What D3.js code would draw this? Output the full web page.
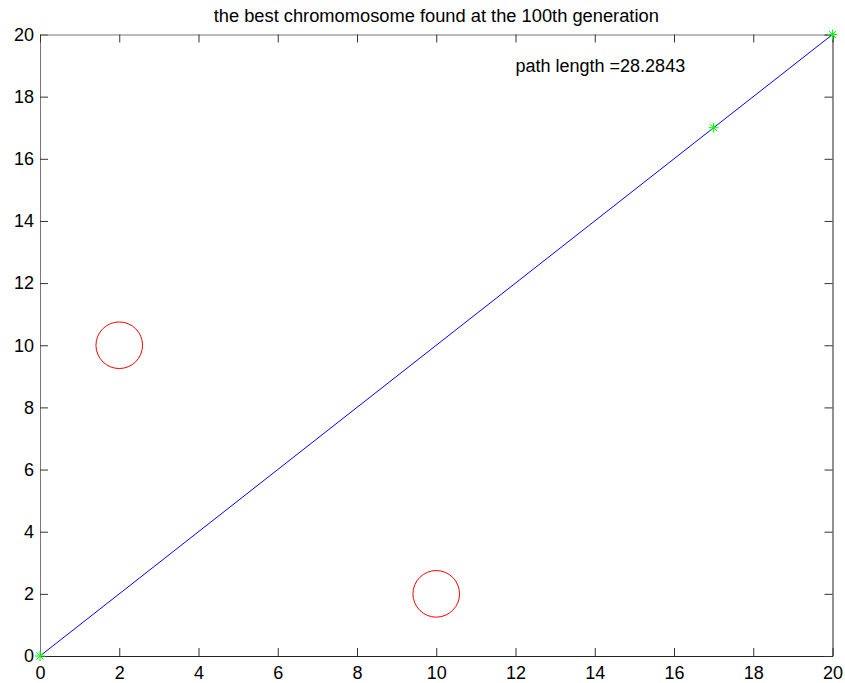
<!DOCTYPE html>
<html>
<head>
    <title>best chromosome</title>
    <script src="https://d3js.org/d3.v7.min.js"></script>
    <style>
        body, html {
            margin: 0;
            background: #fff;
            overflow: hidden;
        }
        text {
            font-family: "Liberation Sans", Arial, sans-serif;
            fill: #000;
        }
    </style>
</head>
<body>
<div id="chart"></div>
<script>
    // path through the cities (x, y)
    const pathX = [0, 17, 20];
    const pathY = [0, 17, 20];
    // obstacles drawn as red circles
    const obstacleX = [2, 10];
    const obstacleY = [10, 2];
    const xTicks = [0, 2, 4, 6, 8, 10, 12, 14, 16, 18, 20];
    const yTicks = [0, 2, 4, 6, 8, 10, 12, 14, 16, 18, 20];
    const titleText = "the best chromomosome found at the 100th generation";
    const labelText = "path length =28.2843";
    const labelPos = [12, 19];

    const width = 845,
          height = 683,
          margin = {top: 34.5, right: 12.5, bottom: 27, left: 40};

    const svg = d3.select("#chart")
                  .append("svg")
                  .attr("width", width)
                  .attr("height", height);

    const x = d3.scaleLinear().domain([0, 20]).range([margin.left, width - margin.right]);
    const y = d3.scaleLinear().domain([0, 20]).range([height - margin.bottom, margin.top]);

    // axes box, ticks pointing inward
    const tickLen = 8;
    const axisFont = "18px";

    const gBottom = svg.append("g")
        .attr("transform", `translate(0,${y(0)})`)
        .call(d3.axisBottom(x).tickValues(xTicks).tickSizeInner(-tickLen).tickSizeOuter(0).tickPadding(10));
    const gLeft = svg.append("g")
        .attr("transform", `translate(${x(0)},0)`)
        .call(d3.axisLeft(y).tickValues(yTicks).tickSizeInner(-tickLen).tickSizeOuter(0).tickPadding(6));
    const gTop = svg.append("g")
        .attr("transform", `translate(0,${y(20)})`)
        .call(d3.axisTop(x).tickValues(xTicks).tickSizeInner(-tickLen).tickSizeOuter(0).tickFormat(""));
    const gRight = svg.append("g")
        .attr("transform", `translate(${x(20)},0)`)
        .call(d3.axisRight(y).tickValues(yTicks).tickSizeInner(-tickLen).tickSizeOuter(0).tickFormat(""));

    [gBottom, gLeft, gTop, gRight].forEach(g => {
        g.selectAll("text").style("font-size", axisFont).attr("font-family", null);
        g.selectAll("line").attr("stroke", "#333");
    });
    gBottom.select(".domain").attr("stroke", "#222");
    gRight.select(".domain").attr("stroke", "#222");
    gTop.select(".domain").attr("stroke", "#777");
    gLeft.select(".domain").attr("stroke", "#777");

    // title
    svg.append("text")
       .attr("x", (x(0) + x(20)) / 2)
       .attr("y", 22)
       .attr("text-anchor", "middle")
       .style("font-size", "18.3px")
       .text(titleText);

    // path line
    const pts = pathX.map((d, i) => [d, pathY[i]]);
    svg.append("path")
       .datum(pts)
       .attr("fill", "none")
       .attr("stroke", "#0000ff")
       .attr("stroke-width", 1)
       .attr("d", d3.line().x(d => x(d[0])).y(d => y(d[1])));

    // star markers
    const star = svg.append("g").selectAll("g")
        .data(pts)
        .join("g")
        .attr("transform", d => `translate(${x(d[0])},${y(d[1])})`)
        .attr("stroke", "#00ff00")
        .attr("stroke-width", 1);
    const s = 5;
    star.append("line").attr("x1", -s).attr("x2", s).attr("y1", 0).attr("y2", 0);
    star.append("line").attr("x1", 0).attr("x2", 0).attr("y1", -s).attr("y2", s);
    star.append("line").attr("x1", -s * 0.7).attr("x2", s * 0.7).attr("y1", -s * 0.7).attr("y2", s * 0.7);
    star.append("line").attr("x1", -s * 0.7).attr("x2", s * 0.7).attr("y1", s * 0.7).attr("y2", -s * 0.7);

    // obstacles
    svg.append("g").selectAll("circle")
       .data(obstacleX.map((d, i) => [d, obstacleY[i]]))
       .join("circle")
       .attr("cx", d => x(d[0]))
       .attr("cy", d => y(d[1]))
       .attr("r", 23.3)
       .attr("fill", "none")
       .attr("stroke", "#ff0000")
       .attr("stroke-width", 1);

    // path length label
    svg.append("text")
       .attr("x", x(labelPos[0]))
       .attr("y", y(labelPos[1]))
       .attr("dy", "0.35em")
       .style("font-size", "18px")
       .text(labelText);
</script>
</body>
</html>
